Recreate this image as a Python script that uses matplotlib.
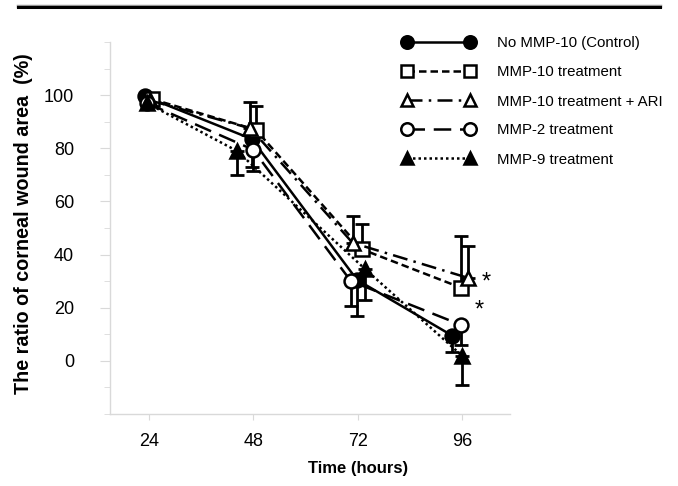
import matplotlib
matplotlib.use("Agg")
import matplotlib.pyplot as plt
from matplotlib.lines import Line2D
from matplotlib.ticker import MultipleLocator

plt.rcParams['font.family'] = ['Liberation Sans', 'DejaVu Sans']

# ---- data ----
time_ticks = [24, 48, 72, 96]
y_ticks = [0, 20, 40, 60, 80, 100]

labels = ["No MMP-10 (Control)", "MMP-10 treatment", "MMP-10 treatment + ARI",
          "MMP-2 treatment", "MMP-9 treatment"]

control_x = [23.1, 47.6, 71.8, 93.7]
control_y = [99.5, 83.5, 30.5, 9.5]
control_err_lo = [0, 10.5, 13.5, 6]

mmp10_x = [24.7, 48.5, 72.9, 95.8]
mmp10_y = [98.5, 87.0, 42.0, 27.5]
mmp10_err_hi = [0, 9, 9.5, 19.5]

ari_x = [24.2, 47.3, 70.8, 97.4]
ari_y = [98.0, 87.5, 44.4, 31.2]
ari_err_hi = [0, 10, 10, 12]

mmp2_x = [23.5, 47.9, 70.4, 95.8]
mmp2_y = [97.0, 79.5, 30.0, 13.5]
mmp2_err_lo = [0, 8, 9.5, 7.5]

mmp9_x = [23.5, 44.2, 73.7, 96.0]
mmp9_y = [97.0, 79.0, 34.5, 1.9]
mmp9_err_lo = [0, 9, 11.5, 11]

# ---- figure ----
fig = plt.figure(figsize=(6.78, 4.86), dpi=100)
ax = fig.add_axes([110/678, 1-414/486, 400/678, 372/486])

grey = '#d9d9d9'
zeros = [0, 0, 0, 0]

series = [
    (control_x, control_y, [control_err_lo, zeros], dict(marker='o', mfc='black', ls='-')),
    (mmp10_x, mmp10_y, [zeros, mmp10_err_hi], dict(marker='s', mfc='white', ls=(0, (3.0, 1.6)))),
    (ari_x, ari_y, [zeros, ari_err_hi], dict(marker='^', mfc='white', ls=(0, (6, 2.5, 1, 2.5)))),
    (mmp2_x, mmp2_y, [mmp2_err_lo, zeros], dict(marker='o', mfc='white', ls=(0, (7, 3.5)))),
    (mmp9_x, mmp9_y, [mmp9_err_lo, zeros], dict(marker='^', mfc='black', ls=(0, (1, 1.2)))),
]

handles = []
for (xs, ys, err, st), lab in zip(series, labels):
    ax.errorbar(xs, ys, yerr=err, fmt='none', ecolor='black', elinewidth=2,
                capsize=5, capthick=2, zorder=2)
    ln, = ax.plot(xs, ys, color='black', lw=1.8, linestyle=st['ls'], marker=st['marker'],
                  mfc=st['mfc'], mec='black', mew=1.8, ms=10, zorder=3, label=lab)
    handles.append(ln)

ax.set_xlim(15, 107)
ax.set_ylim(-20, 120)
ax.set_xticks(time_ticks)
ax.set_yticks(y_ticks)
ax.yaxis.set_minor_locator(MultipleLocator(10))
for s in ['top', 'right']:
    ax.spines[s].set_visible(False)
for s in ['left', 'bottom']:
    ax.spines[s].set_color(grey)
    ax.spines[s].set_linewidth(1)
ax.tick_params(axis='y', which='major', length=7, color=grey, labelsize=13, pad=19)
ax.tick_params(axis='y', which='minor', length=4.5, color=grey)
ax.tick_params(axis='x', which='major', length=4, color=grey, labelsize=13, pad=10)

ax.set_ylabel("The ratio of corneal wound area  (%)", fontsize=14.2, fontweight='bold')
ax.yaxis.set_label_coords(-0.192, 0.512)
fig.text(358/678, 1-468/486, "Time (hours)", fontsize=12, fontweight='bold', ha='center', va='center')

ax.text(101.5, 29.5, "*", fontsize=17, ha='center', va='center')
ax.text(100.0, 18.8, "*", fontsize=17, ha='center', va='center')

fig.legend(handles=handles, loc='upper left', bbox_to_anchor=(395/678, 1-29/486),
           frameon=False, numpoints=2, handlelength=4.8, handletextpad=1.5,
           labelspacing=1.0, fontsize=10.8, borderpad=0, markerscale=0.9)

# top rule
fig.add_artist(Line2D([18/678, 660/678], [1-6/486, 1-6/486], color='#999999', lw=2.5, transform=fig.transFigure))
fig.add_artist(Line2D([18/678, 660/678], [1-7.5/486, 1-7.5/486], color='black', lw=2.2, transform=fig.transFigure))

fig.savefig("out.png", dpi=100)
